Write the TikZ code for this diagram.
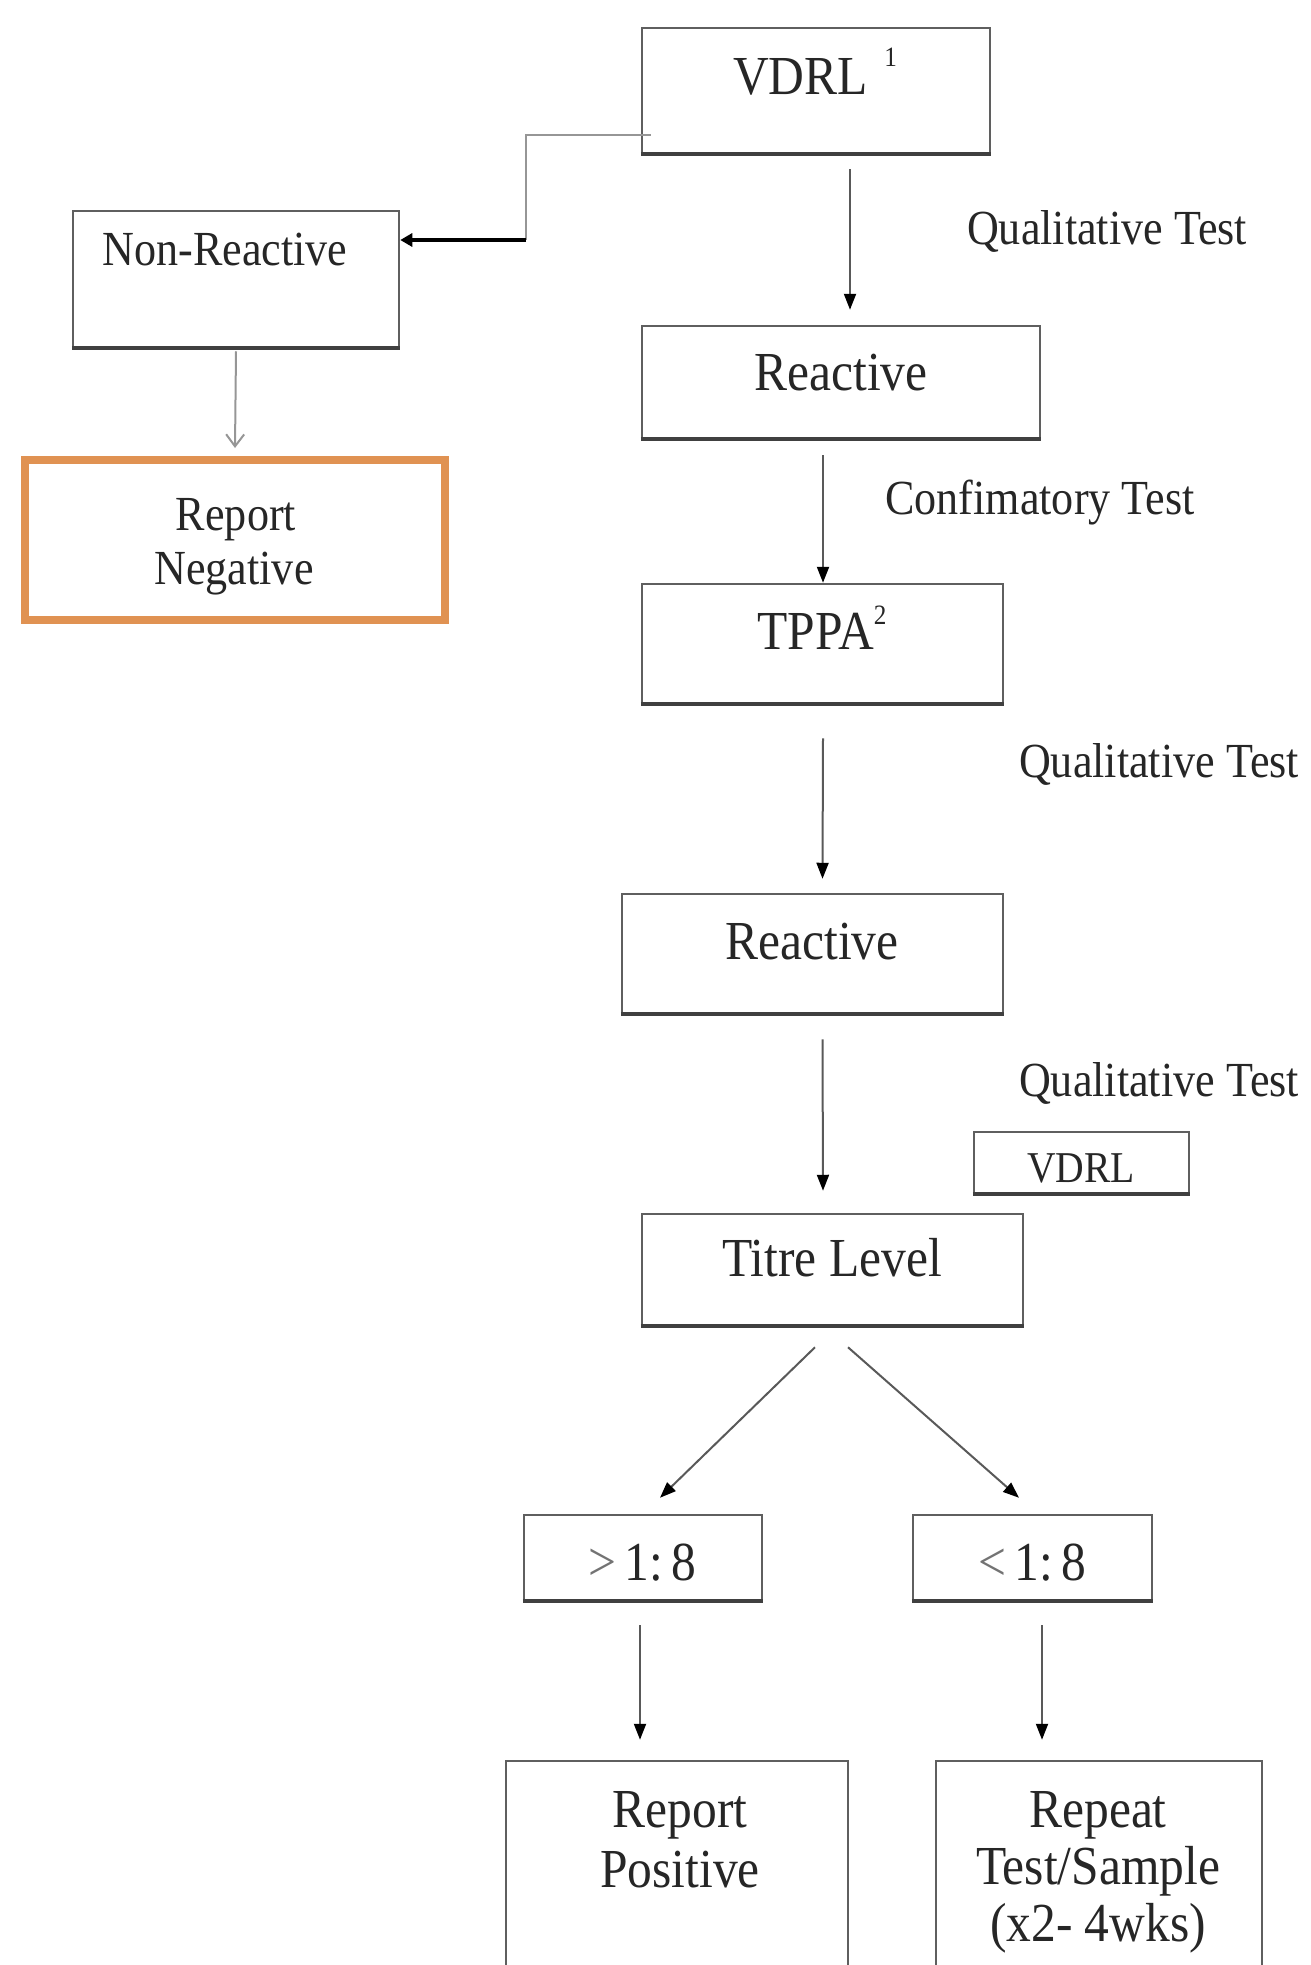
\documentclass[tikz,border=0pt]{standalone}
\usepackage{fontspec}
\setmainfont[FakeStretch=0.9]{Liberation Serif}
\usetikzlibrary{arrows.meta}
\definecolor{frame}{RGB}{95,95,95}
\definecolor{orng}{RGB}{224,146,82}
\definecolor{lgray}{RGB}{150,150,150}
\begin{document}
\begin{tikzpicture}[x=1pt,y=-1pt,
  boxst/.style={draw=frame, line width=2.5pt, fill=white, inner sep=0pt},
  txt/.style={anchor=base, inner sep=0pt, text=black!85, font=\fontsize{55}{60}\selectfont},
  smtxt/.style={anchor=base, inner sep=0pt, text=black!85, font=\fontsize{49}{54}\selectfont},
  lbl/.style={anchor=base, inner sep=0pt, text=black!85, font=\fontsize{49}{54}\selectfont},
  arr/.style={draw=black!65, line width=2pt, -{Triangle[width=12pt,length=16pt,color=black]}},
]
\useasboundingbox (0,0) rectangle (1310,1965);
\clip (0,0) rectangle (1310,1965);

% boxes
\node[boxst, minimum width=348pt, minimum height=125pt] (vdrl) at (816,90.5) {};
\node[boxst, minimum width=326pt, minimum height=136pt] (nonreac) at (236,279) {};
\node[draw=orng, line width=8pt, fill=white, inner sep=0pt, minimum width=420pt, minimum height=160pt] (repneg) at (235,540) {};
\node[boxst, minimum width=398pt, minimum height=112pt] (reac1) at (841,382) {};
\node[boxst, minimum width=361pt, minimum height=119pt] (tppa) at (822.5,643.5) {};
\node[boxst, minimum width=381pt, minimum height=119pt] (reac2) at (812.5,953.5) {};
\node[boxst, minimum width=215pt, minimum height=61pt] (vdrl2) at (1081.5,1162.5) {};
\node[boxst, minimum width=381pt, minimum height=111pt] (titre) at (832.5,1269.5) {};
\node[boxst, minimum width=238pt, minimum height=85pt] (gt) at (643,1557.5) {};
\node[boxst, minimum width=239pt, minimum height=85pt] (lt) at (1032.5,1557.5) {};
\node[boxst, minimum width=342pt, minimum height=300pt] (repos) at (677,1911) {};
\node[boxst, minimum width=326pt, minimum height=300pt] (repeat) at (1099,1911) {};

\foreach \n in {vdrl,nonreac,reac1,tppa,reac2,vdrl2,titre,gt,lt}
  \draw[line width=4pt, black!75] (\n.south west) -- (\n.south east);

% texts
\node[txt] (t-vdrl) at (815,94) {VDRL\hspace{0.3em}\raisebox{0.5em}{\fontsize{28}{28}\selectfont 1}};
\node[smtxt] (t-nonreac) at (225,265) {Non-Reactive};
\node[smtxt] (t-rep1) at (236,530) {Report};
\node[smtxt] (t-neg) at (234,584) {Negative};
\node[txt] (t-reac1) at (841,390) {Reactive};
\node[txt] (t-tppa) at (822,649) {TPPA\raisebox{0.45em}{\fontsize{28}{28}\selectfont 2}};
\node[txt] (t-reac2) at (812,959) {Reactive};
\node[anchor=base, inner sep=0pt, text=black!85, font=\fontsize{44}{50}\selectfont] (t-vdrl2) at (1081,1182) {VDRL};
\node[txt] (t-titre) at (832,1276) {Titre Level};
\node[txt] (t-gt) at (642,1580) {{\color{black!55}>}\hspace{0.15em}1:\hspace{0.15em}8};
\node[txt] (t-lt) at (1032,1580) {{\color{black!55}<}\hspace{0.15em}1:\hspace{0.15em}8};
\node[txt] (t-rep2) at (680,1827) {Report};
\node[txt] (t-pos) at (680,1887) {Positive};
\node[txt] (t-repeat) at (1098,1827) {Repeat};
\node[txt] (t-ts) at (1098,1884) {Test/Sample};
\node[txt] (t-x2) at (1098,1941) {(x2- 4wks)};

% labels
\node[lbl] (l1) at (1107,244) {Qualitative Test};
\node[lbl] (l2) at (1040,514) {Confimatory Test};
\node[lbl] (l3) at (1159,777) {Qualitative Test};
\node[lbl] (l4) at (1159,1096) {Qualitative Test};

% connectors
\coordinate (bend) at (526,240);
\draw[lgray, line width=2.5pt] ([shift={(10pt,-44.5pt)}]vdrl.west) -| (bend);
\draw[black, line width=4pt, -{Triangle[width=13pt,length=12pt]}] (bend) -- ([yshift=39pt]nonreac.east);
\draw[lgray, line width=2pt, -{Straight Barb[width=18pt,length=12pt,line width=2pt]}] ([yshift=-3pt]nonreac.south) -- ([yshift=8pt]repneg.north);

\draw[arr] ([xshift=34pt,yshift=-15pt]vdrl.south) -- ([xshift=9pt,yshift=15pt]reac1.north);
\draw[arr] ([xshift=-18pt,yshift=-16pt]reac1.south) -- ([xshift=0.5pt]tppa.north);
\draw[arr] ([xshift=0.5pt,yshift=-34pt]tppa.south) -- ([xshift=10pt,yshift=14pt]reac2.north);
\draw[arr] ([xshift=10pt,yshift=-25pt]reac2.south) -- ([xshift=-9.5pt,yshift=22pt]titre.north);
\draw[arr] ([xshift=-17.5pt,yshift=-21pt]titre.south) -- ([xshift=17pt,yshift=16pt]gt.north);
\draw[arr] ([xshift=15.5pt,yshift=-21pt]titre.south) -- ([xshift=-13.5pt,yshift=16pt]lt.north);
\draw[arr] ([xshift=-3pt,yshift=-24pt]gt.south) -- ([xshift=-37pt,yshift=20pt]repos.north);
\draw[arr] ([xshift=9.5pt,yshift=-24pt]lt.south) -- ([xshift=-57pt,yshift=20pt]repeat.north);
\end{tikzpicture}
\end{document}
